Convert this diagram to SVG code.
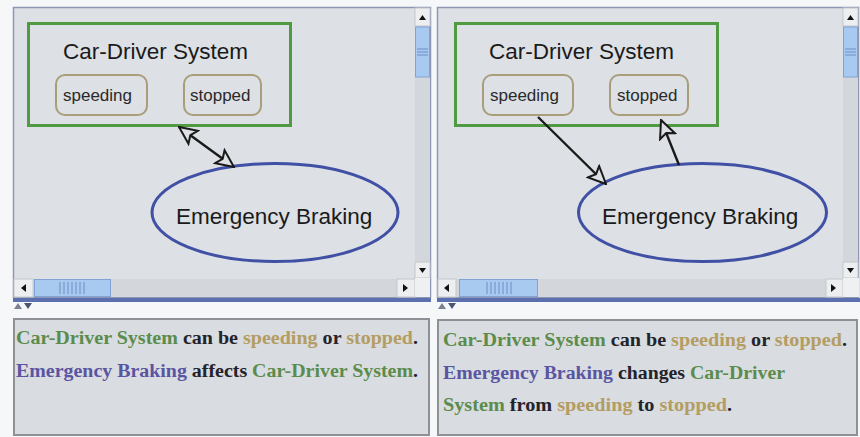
<svg xmlns="http://www.w3.org/2000/svg" width="860" height="437" viewBox="0 0 860 437">
  <style>
    .canvas { fill: #dde0e4; stroke: #8e96b4; stroke-width: 1.5; }
    .sys { fill: none; stroke: #4f9a42; stroke-width: 3; }
    .state { fill: none; stroke: #a99d7c; stroke-width: 2; }
    .proc { fill: none; stroke: #4050a4; stroke-width: 3; }
    .title { font-family: "Liberation Sans", Arial, sans-serif; font-size: 22.5px; fill: #1a1a1a; }
    .stxt { font-family: "Liberation Sans", Arial, sans-serif; font-size: 17px; fill: #2a2a2a; }
    .link { stroke: #1a1a1a; stroke-width: 2.4; fill: none; }
    .track { fill: #d3d6da; }
    .btn { fill: #eceef0; stroke: #c4c7cb; stroke-width: 1; }
    .thumb { fill: #a8c9f0; stroke: #7fa3d4; stroke-width: 1; }
    .grip { stroke: #6f8fc4; stroke-width: 1; }
    .tri { fill: #111; }
    .split { fill: #5c6fae; }
    .panel { fill: #d9dce0; stroke: #8d9196; stroke-width: 2; }
    .prose { font-family: "Liberation Serif", "Times New Roman", serif; font-size: 18px; font-weight: bold; }
    .g { fill: #5b8c4c; }
    .t { fill: #b49d62; }
    .p { fill: #5955a2; }
    .k { fill: #23232c; }
  </style>
  <defs>
    <marker id="open" viewBox="0 0 20 20" refX="19" refY="10" markerWidth="20" markerHeight="20" markerUnits="userSpaceOnUse" orient="auto-start-reverse">
      <path d="M1.5,2 L19,10 L1.5,18 L5,10 Z" fill="#dde0e4" stroke="#1a1a1a" stroke-width="2" stroke-linejoin="miter"/>
    </marker>
  </defs>

  <rect width="860" height="437" fill="#f6f7f9"/>

  <!-- left view: canvas -->
  <rect class="canvas" x="13.5" y="7.5" width="417" height="290"/>
  <!-- left view: scrollbars -->
  <g id="left-scroll">
    <rect class="track" x="415" y="8" width="15" height="270"/>
    <rect class="btn" x="415" y="8" width="15" height="18"/>
    <path class="tri" d="M419,20 L426,20 L422.5,15 Z"/>
    <rect class="thumb" x="415.5" y="27" width="14" height="50"/>
    <line class="grip" x1="417" y1="49" x2="428" y2="49"/>
    <line class="grip" x1="417" y1="52" x2="428" y2="52"/>
    <line class="grip" x1="417" y1="55" x2="428" y2="55"/>
    <rect class="btn" x="415" y="262" width="15" height="16"/>
    <path class="tri" d="M419,268 L426,268 L422.5,273 Z"/>
    <rect class="track" x="14" y="279" width="401" height="18"/>
    <rect class="btn" x="14" y="279" width="19" height="18"/>
    <path class="tri" d="M21,288 L26,284 L26,292 Z"/>
    <rect class="thumb" x="34.5" y="279.5" width="76" height="17"/>
    <line class="grip" x1="60" y1="282" x2="60" y2="294"/>
    <line class="grip" x1="64" y1="282" x2="64" y2="294"/>
    <line class="grip" x1="68" y1="282" x2="68" y2="294"/>
    <line class="grip" x1="72" y1="282" x2="72" y2="294"/>
    <line class="grip" x1="76" y1="282" x2="76" y2="294"/>
    <line class="grip" x1="80" y1="282" x2="80" y2="294"/>
    <line class="grip" x1="84" y1="282" x2="84" y2="294"/>
    <rect class="btn" x="397" y="279" width="18" height="18"/>
    <path class="tri" d="M408,288 L403,284 L403,292 Z"/>
    <rect x="415" y="278" width="15" height="19" fill="#eef0f2"/>
  </g>

  <!-- left view: nodes -->
  <g id="left-car-driver-system">
    <rect class="sys" x="28.5" y="23.5" width="262" height="102"/>
    <text class="title" x="63" y="59">Car-Driver System</text>
  </g>
  <g id="left-speeding">
    <rect class="state" x="56" y="75" width="91" height="40" rx="9"/>
    <text class="stxt" x="63" y="101">speeding</text>
  </g>
  <g id="left-stopped">
    <rect class="state" x="184" y="75" width="77" height="40" rx="9"/>
    <text class="stxt" x="190" y="101">stopped</text>
  </g>
  <g id="left-emergency-braking">
    <ellipse class="proc" cx="275" cy="212.5" rx="123" ry="49"/>
    <text class="title" x="176" y="224">Emergency Braking</text>
  </g>

  <!-- right view: canvas -->
  <rect class="canvas" x="437.5" y="7.5" width="421" height="290"/>
  <g id="right-scroll">
    <rect class="track" x="843" y="8" width="15" height="270"/>
    <rect class="btn" x="843" y="8" width="15" height="18"/>
    <path class="tri" d="M847,20 L854,20 L850.5,15 Z"/>
    <rect class="thumb" x="843.5" y="27" width="14" height="50"/>
    <line class="grip" x1="845" y1="49" x2="856" y2="49"/>
    <line class="grip" x1="845" y1="52" x2="856" y2="52"/>
    <line class="grip" x1="845" y1="55" x2="856" y2="55"/>
    <rect class="btn" x="843" y="262" width="15" height="16"/>
    <path class="tri" d="M847,268 L854,268 L850.5,273 Z"/>
    <rect class="track" x="438" y="279" width="405" height="18"/>
    <rect class="btn" x="438" y="279" width="18" height="18"/>
    <path class="tri" d="M444,288 L449,284 L449,292 Z"/>
    <rect class="thumb" x="459.5" y="279.5" width="78" height="17"/>
    <line class="grip" x1="487" y1="282" x2="487" y2="294"/>
    <line class="grip" x1="491" y1="282" x2="491" y2="294"/>
    <line class="grip" x1="495" y1="282" x2="495" y2="294"/>
    <line class="grip" x1="499" y1="282" x2="499" y2="294"/>
    <line class="grip" x1="503" y1="282" x2="503" y2="294"/>
    <line class="grip" x1="507" y1="282" x2="507" y2="294"/>
    <line class="grip" x1="511" y1="282" x2="511" y2="294"/>
    <rect class="btn" x="826" y="279" width="17" height="18"/>
    <path class="tri" d="M836,288 L831,284 L831,292 Z"/>
    <rect x="843" y="278" width="16" height="19" fill="#eef0f2"/>
  </g>

  <!-- right view: nodes -->
  <g id="right-car-driver-system">
    <rect class="sys" x="455.5" y="23.5" width="262" height="102"/>
    <text class="title" x="489" y="59">Car-Driver System</text>
  </g>
  <g id="right-speeding">
    <rect class="state" x="483" y="75" width="90" height="40" rx="9"/>
    <text class="stxt" x="490" y="101">speeding</text>
  </g>
  <g id="right-stopped">
    <rect class="state" x="610" y="75" width="78" height="40" rx="9"/>
    <text class="stxt" x="617" y="101">stopped</text>
  </g>
  <g id="right-emergency-braking">
    <ellipse class="proc" cx="702.5" cy="212.5" rx="124" ry="49"/>
    <text class="title" x="602" y="224">Emergency Braking</text>
  </g>

  <!-- connectors -->
  <g id="connectors">
    <line class="link" x1="179" y1="127" x2="234" y2="167" marker-start="url(#open)" marker-end="url(#open)"/>
    <line class="link" x1="538" y1="117" x2="606" y2="184" marker-end="url(#open)"/>
    <line class="link" x1="679" y1="165" x2="661" y2="120" marker-end="url(#open)"/>
  </g>

  <!-- splitter bars -->
  <rect class="split" x="13" y="298" width="418" height="4"/>
  <rect class="split" x="437" y="298" width="423" height="4"/>
  <path d="M14,309 L18,303 L22,309 Z" fill="#7a8090"/>
  <path d="M24,303 L32,303 L28,309 Z" fill="#4a5570"/>
  <path d="M438,309 L442,303 L446,309 Z" fill="#7a8090"/>
  <path d="M448,303 L456,303 L452,309 Z" fill="#4a5570"/>

  <!-- description panels -->
  <g id="left-description">
    <rect class="panel" x="14" y="319" width="415" height="116"/>
    <text class="prose" x="16" y="344" textLength="402" lengthAdjust="spacingAndGlyphs"><tspan class="g">Car-Driver System</tspan> <tspan class="k">can be</tspan> <tspan class="t">speeding</tspan> <tspan class="k">or</tspan> <tspan class="t">stopped</tspan><tspan class="k">.</tspan></text>
    <text class="prose" x="16" y="377" textLength="402" lengthAdjust="spacingAndGlyphs"><tspan class="p">Emergency Braking</tspan> <tspan class="k">affects</tspan> <tspan class="g">Car-Driver System</tspan><tspan class="k">.</tspan></text>
  </g>
  <g id="right-description">
    <rect class="panel" x="438" y="320" width="419" height="115"/>
    <text class="prose" x="443" y="346" textLength="404" lengthAdjust="spacingAndGlyphs"><tspan class="g">Car-Driver System</tspan> <tspan class="k">can be</tspan> <tspan class="t">speeding</tspan> <tspan class="k">or</tspan> <tspan class="t">stopped</tspan><tspan class="k">.</tspan></text>
    <text class="prose" x="443" y="379" textLength="342" lengthAdjust="spacingAndGlyphs"><tspan class="p">Emergency Braking</tspan> <tspan class="k">changes</tspan> <tspan class="g">Car-Driver</tspan></text>
    <text class="prose" x="443" y="411" textLength="289" lengthAdjust="spacingAndGlyphs"><tspan class="g">System</tspan> <tspan class="k">from</tspan> <tspan class="t">speeding</tspan> <tspan class="k">to</tspan> <tspan class="t">stopped</tspan><tspan class="k">.</tspan></text>
  </g>
</svg>
